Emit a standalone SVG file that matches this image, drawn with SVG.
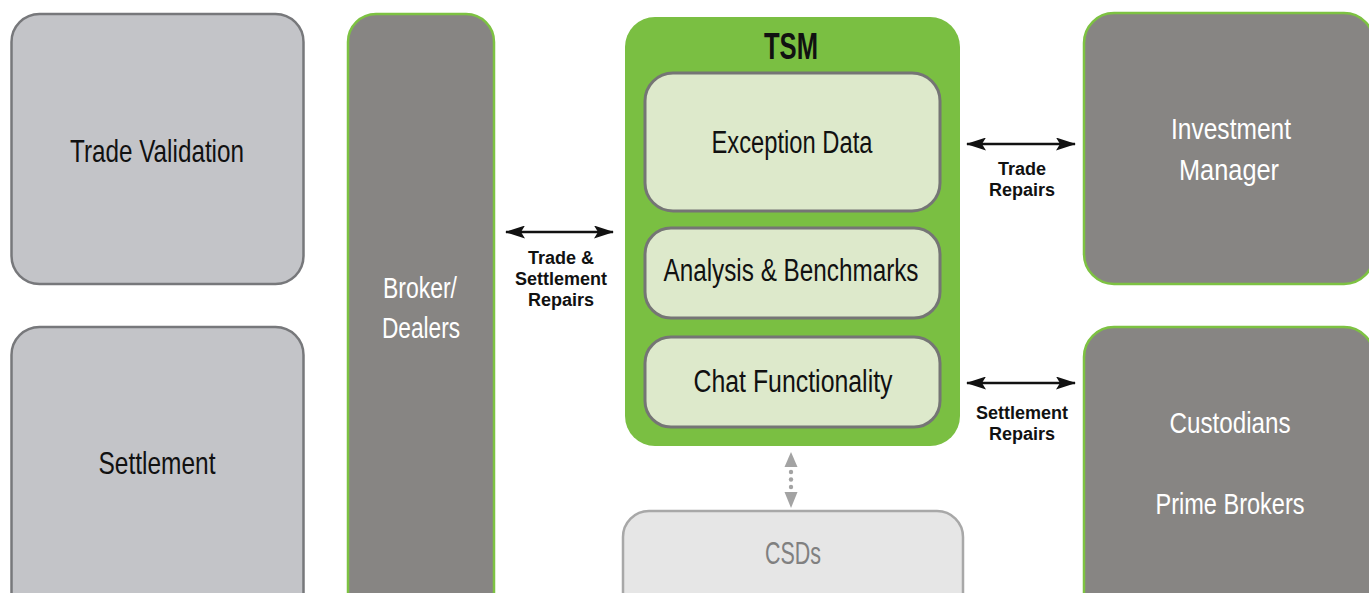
<svg xmlns="http://www.w3.org/2000/svg" width="1369" height="593" viewBox="0 0 1369 593">
<style>
.lbox{fill:#c3c4c8;stroke:#77787b;stroke-width:2.5}
.dbox{fill:#878583;stroke:#7dc242;stroke-width:2.5}
.ibox{fill:#dde9cb;stroke:#757575;stroke-width:3}
.cond{font-family:"Liberation Sans",Arial,sans-serif;text-anchor:middle}
.dk{fill:#111111}
.wt{fill:#ffffff}
.lbl{font-family:"Liberation Sans",Arial,sans-serif;font-weight:bold;font-size:18px;fill:#111111;text-anchor:middle}
.conn{stroke:#111111;stroke-width:2.5;fill:none}
</style>
<defs>
<marker id="ah" markerUnits="userSpaceOnUse" markerWidth="20" markerHeight="13" viewBox="0 0 20 13" refX="19" refY="6.5" orient="auto-start-reverse">
<path d="M0,0 L20,6.5 L0,13 L4,6.5 Z" fill="#111111"/>
</marker>
</defs>
<rect width="1369" height="593" fill="#ffffff"/>

<g id="trade-validation">
<rect class="lbox" x="11.5" y="14" width="292" height="270" rx="28"/>
<text class="cond dk" x="157" y="162" font-size="32" textLength="174" lengthAdjust="spacingAndGlyphs">Trade Validation</text>
</g>
<g id="settlement">
<rect class="lbox" x="11.5" y="327" width="292" height="300" rx="28"/>
<text class="cond dk" x="157" y="474" font-size="32" textLength="117" lengthAdjust="spacingAndGlyphs">Settlement</text>
</g>
<g id="broker-dealers">
<rect class="dbox" x="348" y="14" width="146" height="620" rx="28"/>
<text class="cond wt" x="420" y="298" font-size="30" textLength="74" lengthAdjust="spacingAndGlyphs">Broker/</text>
<text class="cond wt" x="421" y="338" font-size="30" textLength="78" lengthAdjust="spacingAndGlyphs">Dealers</text>
</g>
<g id="tsm">
<rect x="625" y="17" width="335" height="429" rx="30" fill="#7abf42"/>
<text class="cond dk" x="791" y="59" font-size="36" font-weight="bold" textLength="54" lengthAdjust="spacingAndGlyphs">TSM</text>
</g>
<g id="exception-data">
<rect class="ibox" x="645" y="73" width="295" height="138" rx="28"/>
<text class="cond dk" x="792" y="153" font-size="31" textLength="161" lengthAdjust="spacingAndGlyphs">Exception Data</text>
</g>
<g id="analysis-benchmarks">
<rect class="ibox" x="645" y="228" width="295" height="90" rx="26"/>
<text class="cond dk" x="791" y="281" font-size="31" textLength="255" lengthAdjust="spacingAndGlyphs">Analysis &amp; Benchmarks</text>
</g>
<g id="chat-functionality">
<rect class="ibox" x="645" y="337" width="295" height="90" rx="26"/>
<text class="cond dk" x="793" y="392" font-size="31" textLength="199" lengthAdjust="spacingAndGlyphs">Chat Functionality</text>
</g>
<g id="csds">
<rect x="623" y="511" width="340" height="120" rx="26" fill="#e6e6e6" stroke="#a8a8a8" stroke-width="2.5"/>
<text class="cond" x="793" y="564" font-size="31" fill="#808080" textLength="56" lengthAdjust="spacingAndGlyphs">CSDs</text>
</g>
<g id="investment-manager">
<rect class="dbox" x="1084" y="13" width="290" height="271" rx="30"/>
<text class="cond wt" x="1231" y="139" font-size="30" textLength="120" lengthAdjust="spacingAndGlyphs">Investment</text>
<text class="cond wt" x="1229" y="180" font-size="30" textLength="100" lengthAdjust="spacingAndGlyphs">Manager</text>
</g>
<g id="custodians-prime-brokers">
<rect class="dbox" x="1084" y="327" width="290" height="300" rx="30"/>
<text class="cond wt" x="1230" y="433" font-size="30" textLength="121" lengthAdjust="spacingAndGlyphs">Custodians</text>
<text class="cond wt" x="1230" y="514" font-size="30" textLength="149" lengthAdjust="spacingAndGlyphs">Prime Brokers</text>
</g>

<g id="connectors">
<line class="conn" x1="506" y1="232" x2="613" y2="232" marker-start="url(#ah)" marker-end="url(#ah)"/>
<text class="lbl" x="561" y="264">Trade &amp;</text>
<text class="lbl" x="561" y="285">Settlement</text>
<text class="lbl" x="561" y="306">Repairs</text>

<line class="conn" x1="967" y1="144" x2="1075" y2="144" marker-start="url(#ah)" marker-end="url(#ah)"/>
<text class="lbl" x="1022" y="175">Trade</text>
<text class="lbl" x="1022" y="196">Repairs</text>

<line class="conn" x1="967" y1="383" x2="1075" y2="383" marker-start="url(#ah)" marker-end="url(#ah)"/>
<text class="lbl" x="1022" y="419">Settlement</text>
<text class="lbl" x="1022" y="440">Repairs</text>

<g id="csd-link" fill="#a3a3a3">
<polygon points="791,452 797.5,467 784.5,467"/>
<circle cx="791" cy="472" r="2.2"/>
<circle cx="791" cy="479.5" r="2.2"/>
<circle cx="791" cy="487" r="2.2"/>
<polygon points="784.5,492 797.5,492 791,508"/>
</g>
</g>
</svg>
